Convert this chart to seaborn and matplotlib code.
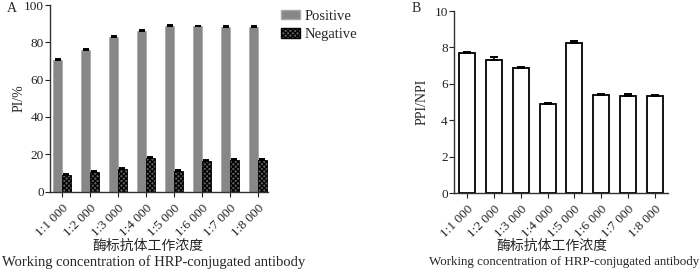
import matplotlib
matplotlib.use("Agg")
import matplotlib.pyplot as plt
import seaborn as sns
import pandas as pd
import numpy as np
from matplotlib.patches import Patch

categories = ["1:1 000", "1:2 000", "1:3 000", "1:4 000", "1:5 000", "1:6 000", "1:7 000", "1:8 000"]
positive = [70.5, 76.0, 83.0, 86.0, 89.0, 88.5, 88.0, 88.0]
positive_err = [0.6, 0.6, 0.5, 0.5, 0.5, 0.5, 0.5, 0.5]
negative = [9.0, 10.5, 12.0, 18.0, 11.0, 16.5, 17.0, 17.0]
negative_err = [0.4, 0.4, 0.4, 0.5, 0.4, 0.4, 0.4, 0.4]
ratio = [7.68, 7.33, 6.89, 4.88, 8.23, 5.41, 5.32, 5.32]
ratio_err = [0.08, 0.12, 0.06, 0.06, 0.14, 0.05, 0.10, 0.08]
xlabel_cn = "酶标抗体工作浓度"
xlabel_en = "Working concentration of HRP-conjugated antibody"

sns.set_theme(style="ticks")
plt.rcParams["font.family"] = ["Liberation Serif", "Noto Sans CJK SC"]
plt.rcParams["hatch.linewidth"] = 0.9
plt.rcParams["hatch.color"] = "black"

W, H = 700, 269
fig = plt.figure(figsize=(7.0, 2.69), dpi=100)
axA = fig.add_axes([50/W, 1-191.5/H, 218/W, 186.5/H])
axB = fig.add_axes([454/W, 1-193/H, 214/W, 182/H])

fs_tick = 9.5
fs_lab = 10

# Panel A
dfA = pd.DataFrame({
    "Dilution": categories * 2,
    "PI": positive + negative,
    "Type": ["Positive"] * len(categories) + ["Negative"] * len(categories),
})
sns.barplot(data=dfA, x="Dilution", y="PI", hue="Type", order=categories,
            hue_order=["Positive", "Negative"], palette=["#878787", "#5e5e5e"],
            width=0.62, errorbar=None, ax=axA, legend=False, saturation=1)
n = len(categories)
pbars = axA.patches[:n]
nbars = axA.patches[n:2*n]
for b in pbars:
    b.set_edgecolor("#a8a8a8")
    b.set_linewidth(0.6)
for b in nbars:
    b.set_hatch("xxxxxxx")
    b.set_edgecolor("black")
    b.set_linewidth(0.6)
xp = [b.get_x() + b.get_width()/2 for b in pbars]
xn = [b.get_x() + b.get_width()/2 for b in nbars]
axA.errorbar(xp, positive, yerr=[np.zeros(n), positive_err], fmt="none",
             ecolor="black", elinewidth=1.2, capsize=2.5, capthick=1.4)
axA.errorbar(xn, negative, yerr=[np.zeros(n), negative_err], fmt="none",
             ecolor="black", elinewidth=1.2, capsize=2.5, capthick=1.4)
axA.set_ylim(0, 100)
axA.set_yticks([0, 20, 40, 60, 80, 100])
axA.set_xlim(-0.43, 7.36)
axA.set_ylabel("PI/%", fontsize=fs_lab, labelpad=-1)
axA.set_xlabel("")
handles = [Patch(facecolor="#878787", edgecolor="#a8a8a8", label="Positive"),
           Patch(facecolor="#5e5e5e", edgecolor="black", hatch="xxxxxxx", label="Negative")]
fig.legend(handles=handles, loc="upper left", bbox_to_anchor=(281/W, 1-10/H),
           bbox_transform=fig.transFigure, borderaxespad=0, borderpad=0,
           frameon=False, fontsize=fs_lab + 0.5, handlelength=1.3, handleheight=0.6,
           handletextpad=0.3, labelspacing=0.35)
fig.text(7/W, 1-8/H, "A", fontsize=fs_lab, va="center", ha="left")

# Panel B
dfB = pd.DataFrame({"Dilution": categories, "Ratio": ratio})
sns.barplot(data=dfB, x="Dilution", y="Ratio", order=categories, color="white",
            width=0.6, errorbar=None, ax=axB, saturation=1,
            edgecolor="black", linewidth=1.3)
xb = [b.get_x() + b.get_width()/2 for b in axB.patches]
axB.errorbar(xb, ratio, yerr=[np.zeros(n), ratio_err], fmt="none",
             ecolor="black", elinewidth=1.2, capsize=3, capthick=1.4)
axB.set_ylim(0, 10)
axB.set_yticks([0, 2, 4, 6, 8, 10])
axB.set_xlim(-0.5, 7.5)
axB.set_ylabel("PPI/NPI", fontsize=fs_lab, labelpad=4)
axB.set_xlabel("")
fig.text(412/W, 1-9/H, "B", fontsize=fs_lab, va="center", ha="left")

# two-line x-axis titles
fig.text(148/W, 1-246/H, xlabel_cn, fontsize=fs_lab, ha="center", va="center")
fig.text(154/W, 1-262/H, xlabel_en, fontsize=10.5, ha="center", va="center")
fig.text(552/W, 1-246/H, xlabel_cn, fontsize=fs_lab, ha="center", va="center")
fig.text(564/W, 1-262/H, xlabel_en, fontsize=9.4, ha="center", va="center")

for ax in (axA, axB):
    sns.despine(ax=ax)
    for s in ("left", "bottom"):
        ax.spines[s].set_linewidth(1.0)
        ax.spines[s].set_color("#333333")
    ax.tick_params(axis="both", labelsize=fs_tick, length=3.5, width=0.8, colors="#222222")
    ax.tick_params(axis="y", pad=1)
    ax.tick_params(axis="x", pad=4)
    ax.set_xticks(range(n))
    ax.set_xticklabels(categories, rotation=45, ha="right", rotation_mode="anchor")

fig.savefig("out.png", dpi=100)
